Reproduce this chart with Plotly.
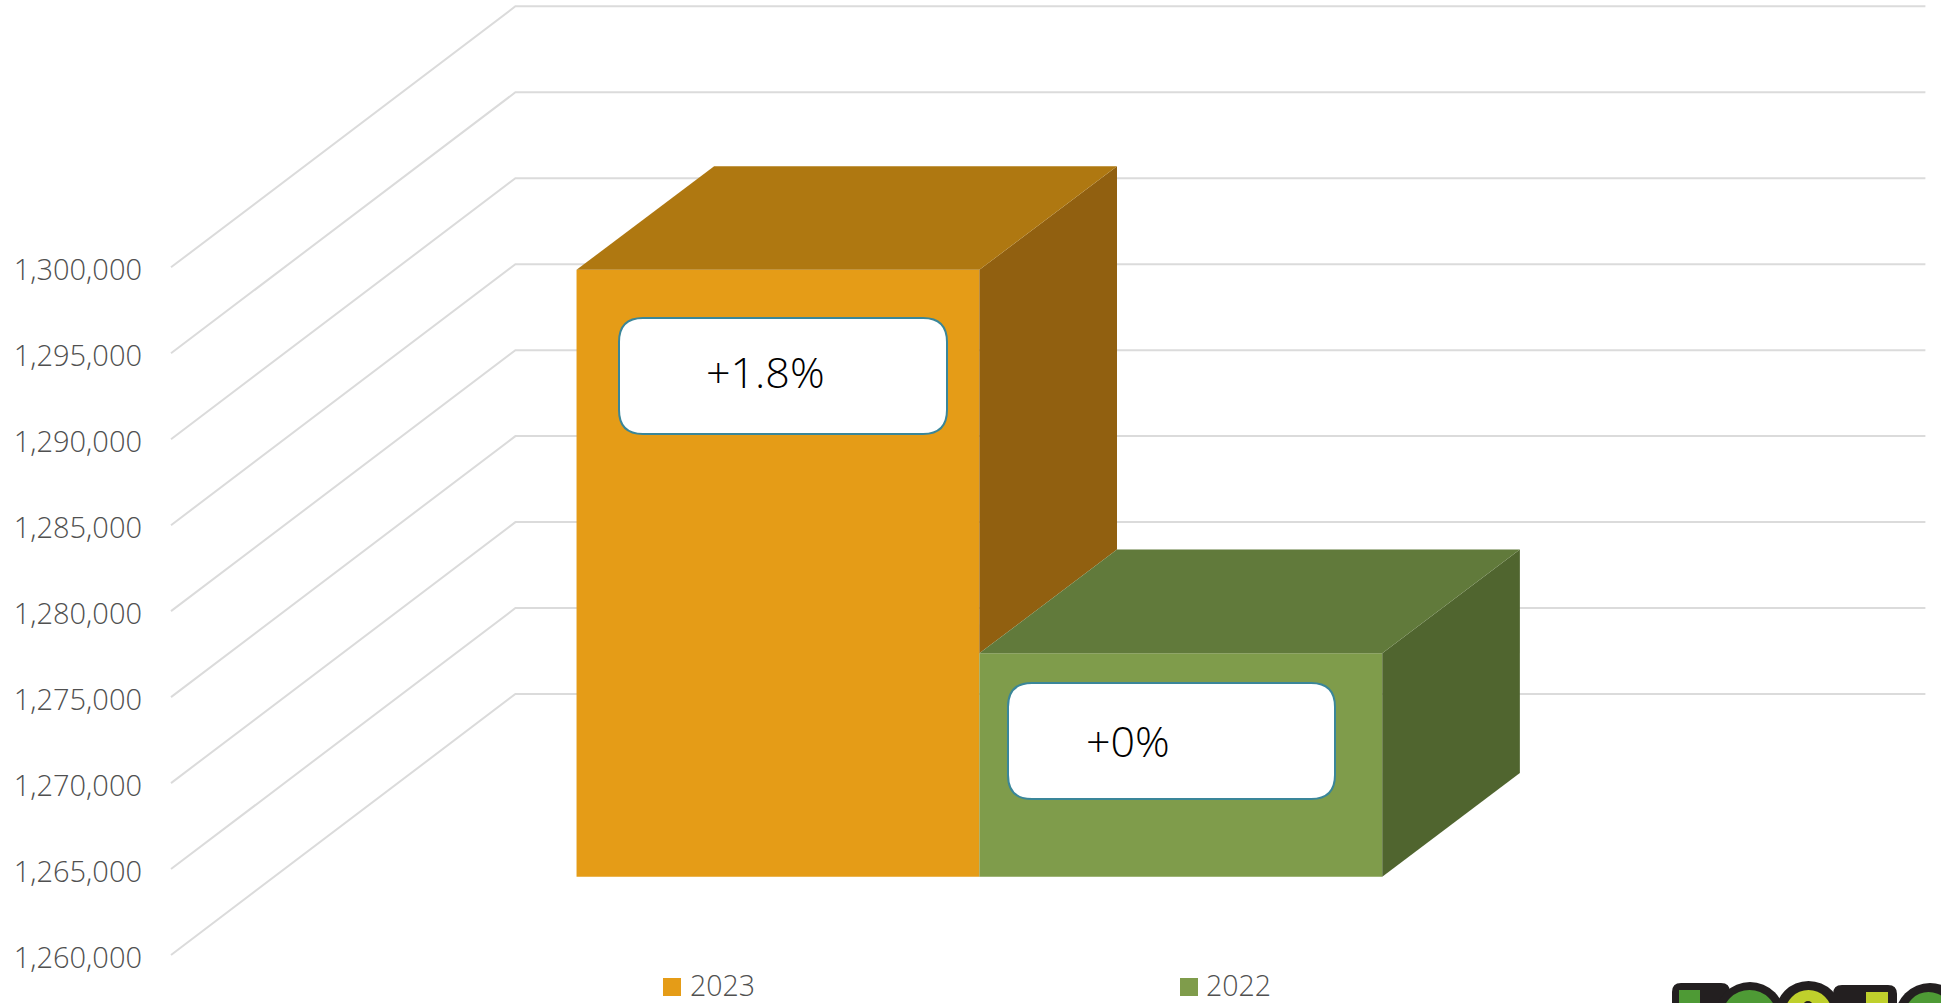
import plotly.graph_objects as go

# ---- data ----
years = ["2023", "2022"]
values = [1295300, 1273000]
colors_front = ["#E59C17", "#7F9C4B"]
colors_top = ["#AF7811", "#617A3B"]
colors_side = ["#916010", "#50652F"]
change_labels = ["+1.8%", "+0%"]
tick_values = [1260000, 1265000, 1270000, 1275000, 1280000, 1285000, 1290000, 1295000, 1300000]
tick_labels = ["1,260,000", "1,265,000", "1,270,000", "1,275,000", "1,280,000",
               "1,285,000", "1,290,000", "1,295,000", "1,300,000"]
floor_value = 1260000

# ---- layout constants ----
W, H = 1941, 1003
ML = 143
VAL_PER_PX = 5000 / 85.96
PX_PER_CAT = 1410.0
CENTER_PX = 979.4
FRONT_FLOOR_PX = 955.0     # floor line on the front edge of the box
BAR_FLOOR_PX = 876.7       # floor line in the plane of the bars' front faces
GAP_X = 103.4 / PX_PER_CAT  # depth gap between box front and bars
BAR_DX = 137.6 / PX_PER_CAT
BAR_DV = 103.6 * VAL_PER_PX
WALL_DX = 241.0 / PX_PER_CAT + GAP_X
WALL_DV = 261.0 * VAL_PER_PX
GRID_COLOR = "#DBDBDB"
TEXT_COLOR = "#505050"
FONT = "Open Sans"
TICK_FONT_SIZE = 29
LEGEND_FONT_SIZE = 28.5
BAR_WIDTH = 1 / 3.5
BOX_EDGE = "#3A8699"
boxes = [(619, 318, 947, 434), (1008, 683, 1335, 799)]
label_px = [(765, 371), (1128, 740)]
swatch_px = [(663, 978, 681, 996), (1180, 978, 1198, 996)]
legend_text_px = [(689, 985), (1205, 985)]


def axis_range(floor_px):
    return [floor_value - (H - floor_px) * VAL_PER_PX, floor_value + floor_px * VAL_PER_PX]


def px(x):
    return (x - ML) / (W - ML)


def py(y):
    return 1 - y / H


def rounded(x0, y0, x1, y1, r):
    a, b, c, d = px(x0), py(y0), px(x1), py(y1)
    rx, ry = r / (W - ML), r / H
    return (f"M{a+rx},{b} L{c-rx},{b} Q{c},{b} {c},{b-ry} L{c},{d+ry} Q{c},{d} {c-rx},{d} "
            f"L{a+rx},{d} Q{a},{d} {a},{d+ry} L{a},{b-ry} Q{a},{b} {a+rx},{b} Z")


fig = go.Figure()

# gridlines: front edge, along the side wall to the back, across the back wall
for v in tick_values:
    fig.add_trace(go.Scatter(
        x=[-0.5 - GAP_X, -0.5 - GAP_X + WALL_DX, 0.5 - GAP_X + WALL_DX],
        y=[v, v + WALL_DV, v + WALL_DV], mode="lines", yaxis="y",
        line=dict(color=GRID_COLOR, width=2), showlegend=False, hoverinfo="skip"))

# front faces
for i, (yr, val) in enumerate(zip(years, values)):
    fig.add_trace(go.Bar(
        x=[0], y=[val - floor_value], base=[floor_value], name=yr, yaxis="y2",
        marker=dict(color=colors_front[i], line=dict(width=0)), showlegend=False))

# side and top faces of each bar
for i, val in enumerate(values):
    left = -BAR_WIDTH + i * BAR_WIDTH
    right = left + BAR_WIDTH
    lower = values[i + 1] if i + 1 < len(values) else floor_value
    fig.add_trace(go.Scatter(
        x=[right, right + BAR_DX, right + BAR_DX, right, right],
        y=[val, val + BAR_DV, lower + BAR_DV, lower, val],
        fill="toself", fillcolor=colors_side[i], mode="lines", line=dict(width=0),
        yaxis="y2", showlegend=False, hoverinfo="skip"))
    fig.add_trace(go.Scatter(
        x=[left, left + BAR_DX, right + BAR_DX, right, left],
        y=[val, val + BAR_DV, val + BAR_DV, val, val],
        fill="toself", fillcolor=colors_top[i], mode="lines", line=dict(width=0),
        yaxis="y2", showlegend=False, hoverinfo="skip"))

shapes = []
for (x0, y0, x1, y1) in boxes:
    shapes.append(dict(type="path", xref="paper", yref="paper", path=rounded(x0, y0, x1, y1, 24),
                       fillcolor="white", line=dict(color=BOX_EDGE, width=2)))

# legend swatches
for i, (x0, y0, x1, y1) in enumerate(swatch_px):
    shapes.append(dict(type="rect", xref="paper", yref="paper", x0=px(x0), x1=px(x1),
                       y0=py(y0), y1=py(y1), fillcolor=colors_front[i], line=dict(width=0)))

# cropped logo at the bottom-right corner
LOGO_DARK, LOGO_GREEN, LOGO_LIME = "#231F20", "#4E9A35", "#BFD02C"
logo_parts = [
    ("path", 1672, 983, 1730, 1020, LOGO_DARK),
    ("circle", 1715, 982, 1785, 1052, LOGO_DARK),
    ("circle", 1775, 981, 1842, 1048, LOGO_DARK),
    ("path", 1833, 985, 1897, 1020, LOGO_DARK),
    ("circle", 1895, 983, 1965, 1053, LOGO_DARK),
    ("rect", 1679, 990, 1700, 1020, LOGO_GREEN),
    ("circle", 1722, 990, 1777, 1045, LOGO_GREEN),
    ("circle", 1785, 990, 1832, 1037, LOGO_LIME),
    ("circle", 1803, 1001, 1813, 1011, LOGO_DARK),
    ("rect", 1866, 992, 1888, 1020, LOGO_LIME),
    ("circle", 1905, 992, 1952, 1039, LOGO_GREEN),
]
for kind, x0, y0, x1, y1, col in logo_parts:
    if kind == "path":
        shapes.append(dict(type="path", xref="paper", yref="paper", path=rounded(x0, y0, x1, y1, 9),
                           fillcolor=col, line=dict(width=0)))
    else:
        shapes.append(dict(type=kind, xref="paper", yref="paper", x0=px(x0), x1=px(x1),
                           y0=py(y0), y1=py(y1), fillcolor=col, line=dict(width=0)))

annotations = [
    dict(text=t, xref="paper", yref="paper", x=px(lx), y=py(ly), showarrow=False,
         xanchor="center", yanchor="middle",
         font=dict(family=FONT, size=43, color="#000000", weight=300))
    for t, (lx, ly) in zip(change_labels, label_px)
] + [
    dict(text=yr, xref="paper", yref="paper", x=px(lx), y=py(ly), showarrow=False,
         xanchor="left", yanchor="middle", borderpad=0,
         font=dict(family=FONT, size=LEGEND_FONT_SIZE, color=TEXT_COLOR, weight=300))
    for yr, (lx, ly) in zip(years, legend_text_px)
]

fig.update_layout(
    width=W, height=H, autosize=False,
    margin=dict(l=ML, r=0, t=0, b=0, pad=0),
    paper_bgcolor="white", plot_bgcolor="white",
    barmode="group", bargap=1.5 / 3.5, bargroupgap=0,
    xaxis=dict(range=[(ML - CENTER_PX) / PX_PER_CAT, (W - CENTER_PX) / PX_PER_CAT],
               visible=False, fixedrange=True),
    yaxis=dict(range=axis_range(FRONT_FLOOR_PX), tickvals=tick_values, ticktext=tick_labels,
               showgrid=False, zeroline=False, showline=False, ticks="", ticklabelshift=3,
               tickfont=dict(family=FONT, size=TICK_FONT_SIZE, color=TEXT_COLOR, weight=300),
               fixedrange=True),
    yaxis2=dict(range=axis_range(BAR_FLOOR_PX), overlaying="y", side="right", visible=False,
                showgrid=False, zeroline=False, fixedrange=True),
    shapes=shapes, annotations=annotations, showlegend=False,
)

fig.write_html("out.html", config=dict(displayModeBar=False),
               post_script="document.body.style.margin='0';document.body.style.overflow='hidden';")
